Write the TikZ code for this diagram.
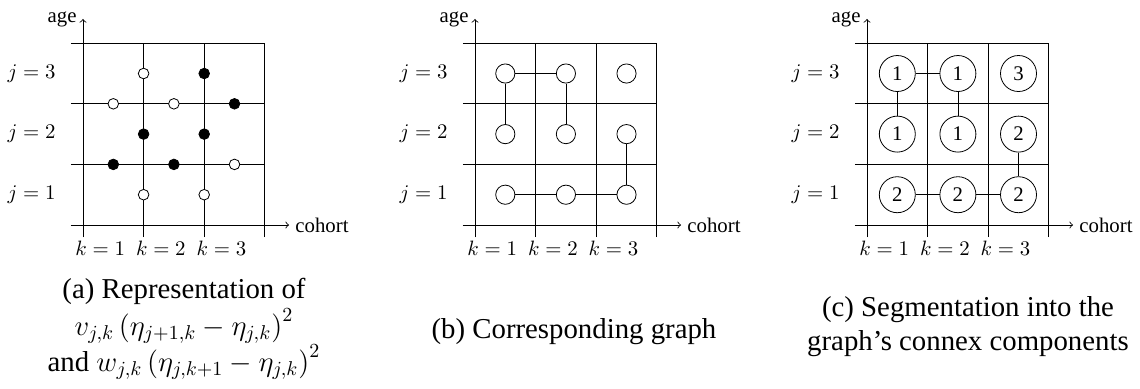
\documentclass[tikz,border=0pt]{standalone}
\usepackage{fix-cm}
\usepackage[no-math]{fontspec}
\setmainfont{Liberation Serif}
\tikzset{
  gridl/.style={line width=0.4pt},
  axisl/.style={line width=0.4pt,->},
  lab/.style={font=\fontsize{10.4}{12}\selectfont, inner sep=3pt},
  captxt/.style={font=\fontsize{14.4}{17}\selectfont, anchor=base, inner sep=0pt},
  dotw/.style={circle, draw, fill=white, inner sep=0pt, minimum size=5.3pt},
  dotb/.style={circle, draw, fill=black, inner sep=0pt, minimum size=5.3pt},
  vb/.style={circle, draw, fill=white, inner sep=0pt, minimum size=9.6pt},
  vc/.style={circle, draw, fill=white, inner sep=0pt, minimum size=18pt, font=\fontsize{10.4}{12}\selectfont},
  conn/.style={line width=0.4pt}
}
\newcommand{\panelframe}[1]{%
  \draw[gridl, step={(1,1)}] (-0.2,-0.2) grid (3,3);
  \coordinate (#1x0) at (-0.2,0);
  \coordinate (#1x1) at (3.4,0);
  \coordinate (#1y0) at (0,-0.2);
  \coordinate (#1y1) at (0,3.4);
  \draw[axisl] (#1x0) -- (#1x1) node[lab, right] (#1coh) {cohort};
  \draw[axisl] (#1y0) -- (#1y1) node[lab, left] (#1age) {age};
  \node[lab] (#1j1) at (-0.85,0.5) {$j=1$};
  \node[lab] (#1j2) at (-0.85,1.5) {$j=2$};
  \node[lab] (#1j3) at (-0.85,2.5) {$j=3$};
  \node[lab] (#1k1) at (0.285,-0.38) {$k=1$};
  \node[lab] (#1k2) at (1.285,-0.38) {$k=2$};
  \node[lab] (#1k3) at (2.285,-0.38) {$k=3$};
}
\begin{document}
\begin{tikzpicture}[x=0.5pt,y=-0.5pt]
\useasboundingbox (0,0) rectangle (1140,388);

% ---------- panel (a)
\begin{scope}[shift={(83,225)}, x=30.3pt, y=30.3pt]
  \panelframe{a}
  \node[dotw] (aw1) at (1,2.5) {};
  \node[dotb] (ab1) at (2,2.5) {};
  \node[dotw] (aw2) at (0.5,2) {};
  \node[dotw] (aw3) at (1.5,2) {};
  \node[dotb] (ab2) at (2.5,2) {};
  \node[dotb] (ab3) at (1,1.5) {};
  \node[dotb] (ab4) at (2,1.5) {};
  \node[dotb] (ab5) at (0.5,1) {};
  \node[dotb] (ab6) at (1.5,1) {};
  \node[dotw] (aw4) at (2.5,1) {};
  \node[dotw] (aw5) at (1,0.5) {};
  \node[dotw] (aw6) at (2,0.5) {};
\end{scope}

% ---------- panel (b)
\begin{scope}[shift={(475,225)}, x=30.3pt, y=30.3pt]
  \panelframe{b}
  \foreach \k in {1,2,3}{\foreach \j in {1,2,3}{
    \node[vb] (b\k\j) at (\k-0.5,\j-0.5) {};}}
  \draw[conn] (b13) -- (b23);
  \draw[conn] (b13) -- (b12);
  \draw[conn] (b23) -- (b22);
  \draw[conn] (b32) -- (b31);
  \draw[conn] (b11) -- (b21);
  \draw[conn] (b21) -- (b31);
\end{scope}

% ---------- panel (c)
\begin{scope}[shift={(867,225)}, x=30.3pt, y=30.3pt]
  \panelframe{c}
  \node[vc] (c13) at (0.5,2.5) {1};
  \node[vc] (c23) at (1.5,2.5) {1};
  \node[vc] (c33) at (2.5,2.5) {3};
  \node[vc] (c12) at (0.5,1.5) {1};
  \node[vc] (c22) at (1.5,1.5) {1};
  \node[vc] (c32) at (2.5,1.5) {2};
  \node[vc] (c11) at (0.5,0.5) {2};
  \node[vc] (c21) at (1.5,0.5) {2};
  \node[vc] (c31) at (2.5,0.5) {2};
  \draw[conn] (c13) -- (c23);
  \draw[conn] (c13) -- (c12);
  \draw[conn] (c23) -- (c22);
  \draw[conn] (c32) -- (c31);
  \draw[conn] (c11) -- (c21);
  \draw[conn] (c21) -- (c31);
\end{scope}

% ---------- captions
\node[captxt] (capa1) at (184,298) {(a) Representation of};
\node[captxt] (capa2) at (184,335) {$v_{j,k}\left(\eta_{j+1,k}-\eta_{j,k}\right)^2$};
\node[captxt] (capa3) at (184,371) {and $w_{j,k}\left(\eta_{j,k+1}-\eta_{j,k}\right)^2$};
\node[captxt] (capb) at (574,338) {(b) Corresponding graph};
\node[captxt] (capc1) at (968,316) {(c) Segmentation into the};
\node[captxt] (capc2) at (968,350) {graph's connex components};
\end{tikzpicture}
\end{document}
